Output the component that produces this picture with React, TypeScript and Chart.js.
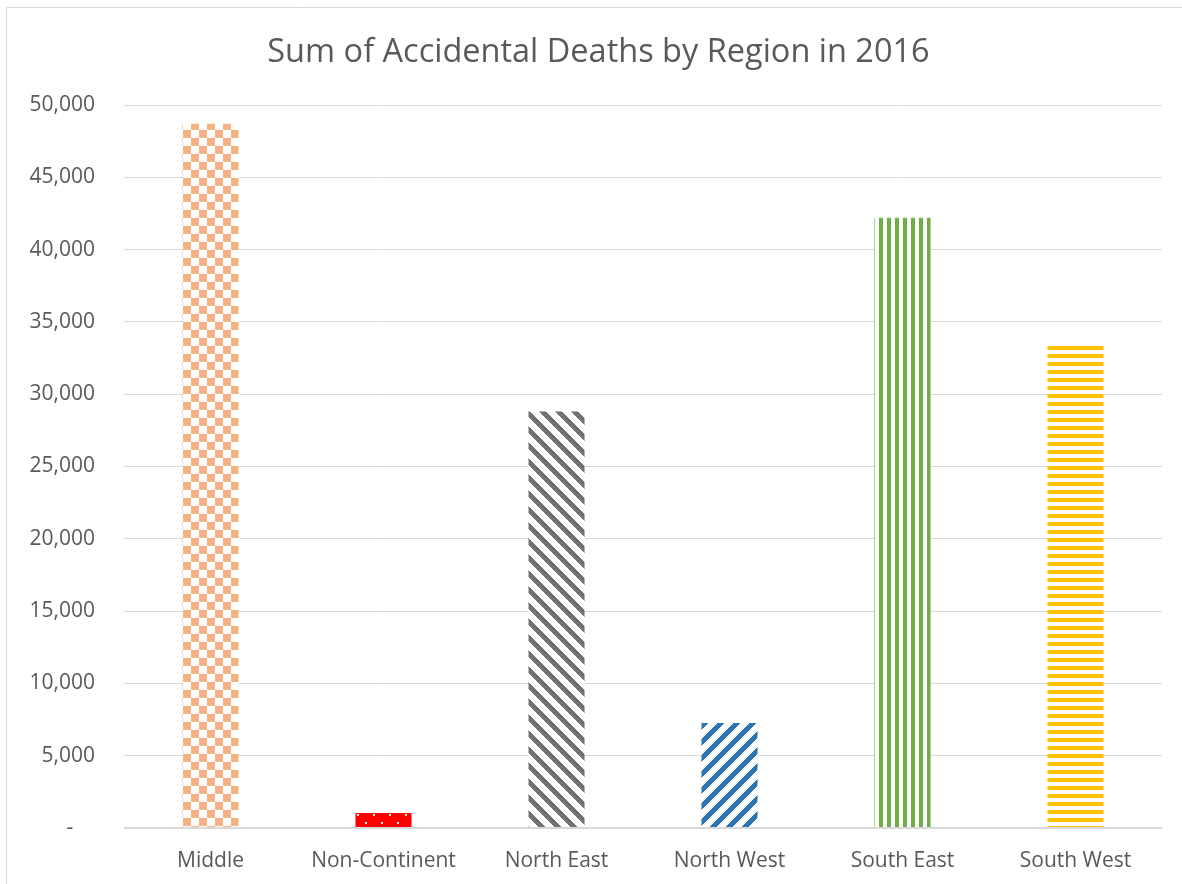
import React, { useEffect, useRef } from "react";
import { Chart, registerables } from "chart.js";

Chart.register(...registerables);

const categories = ["Middle", "Non-Continent", "North East", "North West", "South East", "South West"];
const deaths = [48700, 1040, 28800, 7260, 42200, 33400];
const yTicks = [0, 5000, 10000, 15000, 20000, 25000, 30000, 35000, 40000, 45000, 50000];
const titleText = "Sum of Accidental Deaths by Region in 2016";

function tile(size: number, dx: number, dy: number, draw: (c: CanvasRenderingContext2D) => void): CanvasPattern {
  const cv = document.createElement("canvas");
  cv.width = size;
  cv.height = size;
  const c = cv.getContext("2d")!;
  c.fillStyle = "#ffffff";
  c.fillRect(0, 0, size, size);
  draw(c);
  const p = c.createPattern(cv, "repeat")!;
  try {
    p.setTransform(new DOMMatrix().translate(dx, dy));
  } catch (e) {}
  return p;
}

function makePatterns(): CanvasPattern[] {
  const checker = tile(16, 7, 2, (c) => {
    c.fillStyle = "#F4B183";
    c.fillRect(0, 0, 8, 8);
    c.fillRect(8, 8, 8, 8);
  });
  const dots = tile(16, 0, 0, (c) => {
    c.fillStyle = "#FF0000";
    c.fillRect(0, 0, 16, 16);
    c.fillStyle = "#ffffff";
    c.fillRect(5, 14, 2, 2);
    c.fillRect(13, 6, 2, 2);
  });
  const down = tile(16, 0, 0, (c) => {
    c.fillStyle = "#767171";
    for (let y = 0; y < 16; y++)
      for (let x = 0; x < 16; x++) if (((x - y) % 16 + 16) % 16 < 7) c.fillRect(x, y, 1, 1);
  });
  const up = tile(16, 0, 0, (c) => {
    c.fillStyle = "#2E75B6";
    for (let y = 0; y < 16; y++)
      for (let x = 0; x < 16; x++) if ((x + y) % 16 < 7) c.fillRect(x, y, 1, 1);
  });
  const vert = tile(8, 7, 0, (c) => {
    c.fillStyle = "#70AD47";
    c.fillRect(0, 0, 4, 8);
  });
  const horiz = tile(8, 0, 2, (c) => {
    c.fillStyle = "#FFC000";
    c.fillRect(0, 0, 8, 4);
  });
  return [checker, dots, down, up, vert, horiz];
}

const framePlugin = {
  id: "frame",
  beforeDraw(chart: any) {
    const c = chart.ctx as CanvasRenderingContext2D;
    c.save();
    c.fillStyle = "#ffffff";
    c.fillRect(0, 0, chart.width, chart.height);
    c.strokeStyle = "#D9D9D9";
    c.lineWidth = 1;
    c.beginPath();
    c.moveTo(6.5, chart.height + 5);
    c.lineTo(6.5, 7.5);
    c.lineTo(chart.width + 5, 7.5);
    c.stroke();
    c.fillStyle = "#595959";
    c.font = "32.5px 'Open Sans'";
    c.textAlign = "center";
    c.textBaseline = "alphabetic";
    c.fillText(titleText, 598.5, 62);
    c.restore();
  },
};

export default function App() {
  const ref = useRef<HTMLCanvasElement>(null);
  useEffect(() => {
    document.body.style.margin = "0";
    const chart = new Chart(ref.current!, {
      type: "bar",
      data: {
        labels: categories,
        datasets: [
          {
            data: deaths,
            backgroundColor: makePatterns(),
            borderWidth: 0,
            barPercentage: 0.324,
            categoryPercentage: 1,
          },
        ],
      },
      plugins: [framePlugin],
      options: {
        responsive: false,
        animation: false,
        layout: { padding: { left: 0, right: 20, top: 105, bottom: 0 } },
        plugins: { legend: { display: false }, title: { display: false }, tooltip: { enabled: false } },
        scales: {
          x: {
            grid: { display: false, drawTicks: false },
            border: { display: false },
            ticks: { color: "#595959", font: { family: "'Open Sans'", size: 21 }, padding: 20 },
            afterFit: (s: any) => {
              s.height = 56;
            },
          },
          y: {
            min: 0,
            max: 50000,
            afterBuildTicks: (s: any) => {
              s.ticks = yTicks.map((v) => ({ value: v }));
            },
            grid: {
              color: "#D9D9D9",
              lineWidth: (ctx: any) => (ctx.tick && ctx.tick.value === 0 ? 2 : 1),
              drawTicks: false,
            },
            border: { display: false },
            ticks: {
              color: "#595959",
              font: { family: "'Open Sans'", size: 21 },
              padding: 29,
              callback: (v: any) => (v === 0 ? "-    " : Number(v).toLocaleString("en-US")),
            },
            afterFit: (s: any) => {
              s.width = 124;
            },
          },
        },
      },
    });
    return () => chart.destroy();
  }, []);
  return <canvas ref={ref} width={1182} height={884} style={{ display: "block" }} />;
}
